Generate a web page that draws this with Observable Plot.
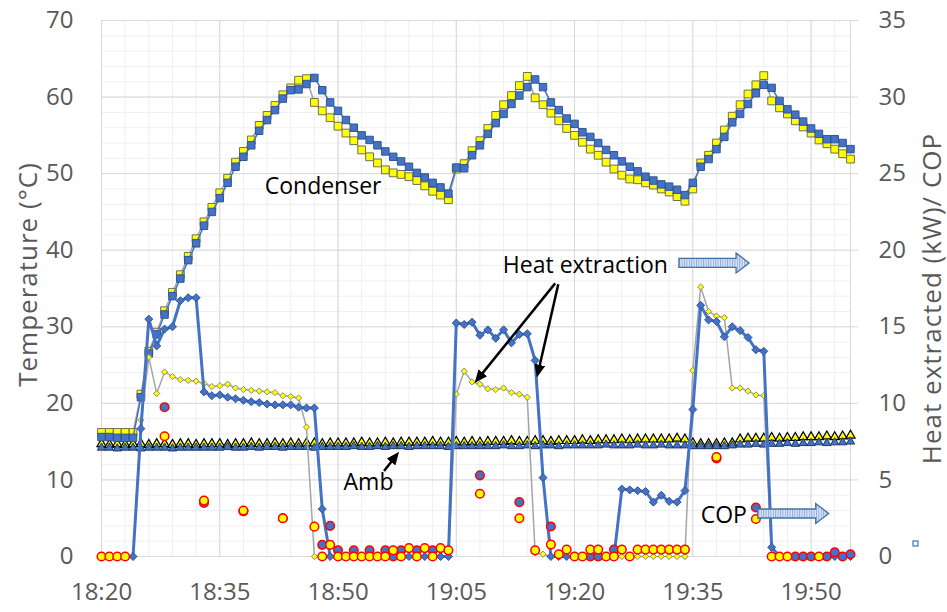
<!DOCTYPE html>
<html>
<head>
<meta charset="utf-8">
<script src="https://cdn.jsdelivr.net/npm/d3@7"></script>
<script src="https://cdn.jsdelivr.net/npm/@observablehq/plot@0.6"></script>
<style>
  html, body { margin: 0; padding: 0; background: #fff; }
  #chart svg { display: block; }
</style>
</head>
<body>
<div id="chart"></div>
<script>
// One reading per minute from 18:20 (minute 0) to 19:55 (minute 95).
const xTickMinutes = [0, 15, 30, 45, 60, 75, 90];
const xTickLabels = ["18:20", "18:35", "18:50", "19:05", "19:20", "19:35", "19:50"];
const tempTicks = [0, 10, 20, 30, 40, 50, 60, 70];

// Condenser temperatures (°C)
const condenserBlue = [
  15.6, 15.6, 15.5, 15.5, 15.5, 20.8, 26.5, 29.0, 31.6, 34.0,
  36.3, 38.7, 40.9, 43.2, 45.0, 46.8, 48.8, 50.9, 52.2, 53.7,
  55.6, 57.0, 58.3, 59.8, 60.9, 61.0, 61.7, 62.5, 60.9, 59.3,
  58.2, 57.0, 56.0, 55.0, 54.4, 53.7, 52.9, 52.2, 51.6, 50.9,
  50.1, 49.5, 48.8, 48.2, 47.4, 50.8, 50.7, 52.4, 53.7, 55.2,
  56.6, 57.8, 59.1, 60.2, 61.3, 62.3, 61.3, 59.3, 58.3, 57.2,
  56.5, 55.4, 54.8, 54.0, 53.1, 52.4, 51.6, 50.9, 50.3, 49.6,
  49.1, 48.6, 48.3, 47.9, 47.2, 48.8, 50.9, 51.9, 53.2, 54.8,
  56.7, 57.8, 59.1, 60.5, 61.6, 61.2, 59.5, 58.4, 57.7, 56.8,
  55.9, 55.2, 54.5, 54.5, 54.0, 53.2
];
const condenserYellow = [
  16.2, 16.2, 16.2, 16.2, 16.2, 21.2, 26.8, 29.3, 32.1, 34.5,
  36.8, 39.2, 41.5, 43.7, 45.6, 47.5, 49.4, 51.5, 52.9, 54.4,
  56.3, 57.6, 58.9, 60.3, 61.2, 62.2, 62.4, 59.3, 58.2, 57.3,
  56.2, 55.3, 54.3, 53.1, 52.2, 51.4, 50.5, 50.1, 49.9, 49.6,
  49.1, 48.4, 47.7, 47.2, 46.6, 50.6, 51.3, 53.0, 54.3, 55.9,
  57.6, 59.0, 60.2, 61.5, 62.7, 59.9, 59.0, 57.9, 56.9, 55.9,
  55.0, 54.1, 53.2, 52.4, 51.5, 50.6, 49.8, 49.3, 49.2, 48.8,
  48.5, 48.0, 47.6, 47.0, 46.4, 48.0, 51.4, 52.4, 54.0, 55.7,
  57.5, 59.0, 60.4, 61.6, 62.8, 59.5, 58.6, 57.8, 56.9, 56.1,
  55.3, 54.4, 53.9, 53.2, 52.6, 51.9
];

// Heat extracted (kW), read on the right-hand axis
const heatBlueKW = [
  0, 0, 0, 0, 0, 8.35, 15.5, 13.75, 14.85, 15.0,
  16.7, 16.9, 16.9, 10.75, 10.5, 10.55, 10.4, 10.3, 10.2, 10.1,
  10.05, 9.95, 9.9, 9.9, 9.9, 9.75, 9.7, 9.7, 3.1, 0,
  0, 0, 0, 0, 0, 0, 0, 0, 0, 0,
  0, 0, 0, 0, 0, 15.25, 15.15, 15.3, 14.45, 14.8,
  14.25, 14.8, 13.95, 14.5, 14.55, 12.8, 5.15, 0, 0, 0,
  0, 0, 0, 0, 0, 0, 4.4, 4.35, 4.3, 4.25,
  3.55, 4.0, 3.6, 3.55, 4.3, 9.6, 16.4, 15.45, 15.35, 14.35,
  15.0, 14.75, 14.3, 13.5, 13.4, 0.6, 0, 0, 0, 0,
  0, 0, 0, 0, 0, 0
];
const heatYellowKW = [
  0, 0, 0, 0, 0, 8.9, 13.0, 10.65, 12.05, 11.75,
  11.55, 11.5, 11.45, 11.3, 11.1, 11.15, 11.25, 11.0, 10.9, 10.85,
  10.8, 10.75, 10.7, 10.5, 10.45, 10.35, 8.45, 0, 0, 0,
  0, 0, 0, 0, 0, 0, 0, 0, 0, 0,
  0, 0, 0, 0, 0, 10.6, 12.1, 11.4, 11.25, 10.95,
  10.9, 11.0, 10.7, 10.6, 10.4, 0.25, 0.15, 0, 0, 0,
  0, 0, 0, 0, 0, 0, 0, 0, 0, 0,
  0, 0, 0, 0, 0, 12.15, 17.6, 16.0, 15.7, 15.6,
  11.0, 11.0, 10.8, 10.55, 10.5, 0, 0, 0, 0, 0,
  0, 0, 0, 0, 0, 0
];

// Ambient temperatures (°C)
const ambBlue = [
  14.2, 14.2, 14.1, 14.2, 14.2, 14.1, 14.2, 14.2, 14.2, 14.1,
  14.2, 14.2, 14.2, 14.2, 14.2, 14.2, 14.3, 14.2, 14.2, 14.3,
  14.2, 14.3, 14.3, 14.2, 14.3, 14.3, 14.3, 14.2, 14.3, 14.3,
  14.3, 14.3, 14.4, 14.3, 14.3, 14.4, 14.3, 14.4, 14.4, 14.3,
  14.4, 14.4, 14.4, 14.4, 14.3, 14.4, 14.4, 14.4, 14.4, 14.4,
  14.4, 14.5, 14.4, 14.4, 14.5, 14.4, 14.5, 14.5, 14.4, 14.5,
  14.5, 14.5, 14.5, 14.5, 14.6, 14.5, 14.5, 14.5, 14.6, 14.5,
  14.5, 14.6, 14.5, 14.5, 14.5, 14.4, 14.4, 14.4, 14.4, 14.4,
  14.5, 14.6, 14.6, 14.7, 14.6, 14.7, 14.7, 14.8, 14.7, 14.8,
  14.8, 14.9, 14.8, 14.9, 14.9, 15.0
];
const ambYellow = [
  14.7, 14.6, 14.7, 14.6, 14.7, 14.7, 14.6, 14.7, 14.7, 14.6,
  14.7, 14.7, 14.6, 14.7, 14.7, 14.7, 14.6, 14.7, 14.7, 14.8,
  14.7, 14.7, 14.8, 14.7, 14.8, 14.7, 14.8, 14.8, 14.7, 14.8,
  14.8, 14.8, 14.8, 14.9, 14.8, 14.8, 14.9, 14.8, 14.9, 14.9,
  14.9, 14.9, 15.0, 14.9, 14.9, 15.0, 14.9, 15.0, 14.9, 15.0,
  15.0, 15.0, 15.1, 15.0, 15.0, 15.1, 15.1, 15.0, 15.1, 15.1,
  15.1, 15.2, 15.1, 15.2, 15.2, 15.2, 15.3, 15.2, 15.3, 15.3,
  15.3, 15.3, 15.3, 15.4, 15.3, 14.8, 14.7, 14.7, 14.7, 14.8,
  14.8, 15.3, 15.4, 15.4, 15.4, 15.5, 15.4, 15.5, 15.5, 15.6,
  15.6, 15.6, 15.7, 15.6, 15.7, 15.8
];

// COP readings (right-hand axis); null = no reading
const copBlue = [
  null, null, null, null, null, null, null, null, 9.75, null,
  null, null, null, 3.5, null, null, null, null, 2.95, null,
  null, null, null, 2.5, null, null, null, null, 0.76, 2.0,
  0.4, null, 0.4, null, 0.4, null, 0.4, 0, 0.4, null,
  0.4, null, 0.4, null, null, null, null, null, 5.3, null,
  null, null, null, 3.55, null, null, null, 1.96, null, null,
  null, null, 0, 0, null, 0.45, null, null, null, null,
  null, null, null, null, null, null, null, null, 6.4, null,
  null, null, null, 3.2, null, null, null, null, 0, 0,
  0, null, 0, 0.27, 0, 0.15
];
const copYellow = [
  0, 0, 0, 0, null, null, null, null, 7.85, null,
  null, null, null, 3.65, null, null, null, null, 3.0, null,
  null, null, null, 2.5, null, null, null, 1.95, 0, 0.76,
  0, 0, 0, 0, 0, 0, 0, 0.4, 0, 0.55,
  0, 0.55, 0, 0.55, 0.4, null, null, null, 4.1, null,
  null, null, null, 2.5, null, 0.4, null, 0.78, 0.15, 0.45,
  0, 0, 0.45, 0.45, 0, 0, 0.45, 0, 0.45, 0.45,
  0.45, 0.45, 0.45, 0.45, 0.45, null, null, null, 6.5, null,
  null, null, null, 2.45, null, 0, 0, 0, null, null,
  null, 0, null, null, null, null
];

// Right axis (kW / COP) spans half the left axis (°C): 35 ↔ 70
const rightToLeft = 2;

// Axis titles
const leftTitle = "Temperature (°C)";
const rightTitle = "Heat extracted (kW)/ COP";

// Text notes and pointers, placed in data units (minute, °C)
const notes = [
  {text: "Condenser", minute: 20.7, value: 48.3},
  {text: "Heat extraction", minute: 50.9, value: 38.0},
  {text: "Amb", minute: 30.7, value: 9.7},
  {text: "COP", minute: 76.0, value: 5.35}
];
const pointers = [
  {m1: 57.6, v1: 35.6, m2: 47.7, v2: 23.0},
  {m1: 58.0, v1: 35.5, m2: 55.4, v2: 23.8},
  {m1: 35.9, v1: 11.1, m2: 37.5, v2: 13.2}
];
const blockArrows = [
  {m1: 73.3, m2: 82.2, v: 38.27},
  {m1: 83.3, m2: 92.3, v: 5.55}
];

const series = arr => arr.map((v, minute) => ({minute, v}));
const tickLabelAt = new Map(xTickMinutes.map((m, i) => [m, xTickLabels[i]]));

const minorY = d3.range(0, 71, 2);
const minorX = d3.range(0, 96, 3);

const chart = Plot.plot({
  width: 947,
  height: 612,
  marginLeft: 101,
  marginRight: 97,
  marginTop: 20,
  marginBottom: 56,
  style: {fontFamily: "'Open Sans', sans-serif", background: "#fff", overflow: "visible"},
  x: {type: "linear", domain: [0, 95]},
  y: {type: "linear", domain: [0, 70]},
  marks: [
    // grid
    Plot.ruleY(minorY, {stroke: "#efefef", strokeWidth: 1}),
    Plot.ruleX(minorX, {stroke: "#efefef", strokeWidth: 1}),
    Plot.ruleY(tempTicks, {stroke: "#d9d9d9", strokeWidth: 1}),
    Plot.ruleX(xTickMinutes, {stroke: "#d9d9d9", strokeWidth: 1}),
    Plot.ruleX([95], {stroke: "#d9d9d9", strokeWidth: 1}),

    // axes
    Plot.axisY(tempTicks, {anchor: "left", tickSize: 0, tickPadding: 28, fontSize: 24, fill: "#595959", label: null}),
    Plot.axisY(tempTicks, {anchor: "right", tickSize: 7, stroke: "#d9d9d9", tickPadding: 21, fontSize: 24, fill: "#595959",
      tickFormat: d => String(d / rightToLeft), label: null}),
    Plot.axisX(xTickMinutes, {anchor: "bottom", tickSize: 0, tickPadding: 26, fontSize: 24, fill: "#595959",
      tickFormat: d => tickLabelAt.get(d), label: null}),
    Plot.text([leftTitle], {frameAnchor: "left", textAnchor: "middle", dx: -73, dy: -14, rotate: -90, fontSize: 26, fill: "#595959"}),
    Plot.text([rightTitle], {frameAnchor: "right", textAnchor: "middle", dx: 82, dy: 10, rotate: -90, fontSize: 26, fill: "#595959"}),

    // ambient
    Plot.dot(series(ambYellow), {x: "minute", y: "v", symbol: "triangle", r: 3.4, fill: "#FFFF00", stroke: "#000", strokeWidth: 1.2}),
    Plot.dot(series(ambBlue), {x: "minute", y: "v", symbol: "triangle", r: 3.1, fill: "#4472C4", stroke: "#1F3864", strokeWidth: 1}),

    // condenser
    Plot.line(series(condenserYellow), {x: "minute", y: "v", stroke: "#A5A5A5", strokeWidth: 1.5}),
    Plot.dot(series(condenserYellow), {x: "minute", y: "v", symbol: "square", r: 4.4, fill: "#FFFF00", stroke: "#6F6F4F", strokeWidth: 1}),
    Plot.line(series(condenserBlue), {x: "minute", y: "v", stroke: "#4472C4", strokeWidth: 1.5}),
    Plot.dot(series(condenserBlue), {x: "minute", y: "v", symbol: "square", r: 4.2, fill: "#4472C4", stroke: "#2F5597", strokeWidth: 1}),

    // heat extraction
    Plot.line(series(heatYellowKW), {x: "minute", y: d => d.v * rightToLeft, stroke: "#A5A5A5", strokeWidth: 1.5}),
    Plot.dot(series(heatYellowKW), {x: "minute", y: d => d.v * rightToLeft, symbol: "diamond2", r: 2.8, fill: "#FFFF00", stroke: "#8C8C6C", strokeWidth: 1}),
    Plot.line(series(heatBlueKW), {x: "minute", y: d => d.v * rightToLeft, stroke: "#4472C4", strokeWidth: 3}),
    Plot.dot(series(heatBlueKW), {x: "minute", y: d => d.v * rightToLeft, symbol: "diamond2", r: 3.6, fill: "#4472C4", stroke: "#2F5597", strokeWidth: 1}),

    // COP
    Plot.dot(series(copBlue), {x: "minute", y: d => d.v == null ? null : d.v * rightToLeft, symbol: "circle", r: 4.3, fill: "#4472C4", stroke: "#FF0000", strokeWidth: 1.5}),
    Plot.dot(series(copYellow), {x: "minute", y: d => d.v == null ? null : d.v * rightToLeft, symbol: "circle", r: 4.3, fill: "#FFFF00", stroke: "#FF0000", strokeWidth: 1.5}),

    // notes
    Plot.text(notes, {x: "minute", y: "value", text: "text", textAnchor: "start", fontSize: 23, fill: "#000"})
  ]
});

document.getElementById("chart").appendChild(chart);

// Pointer arrows, block arrows and the small marker, positioned through the plot's scales
const svgEl = chart.tagName.toLowerCase() === "svg" ? chart : chart.querySelector("svg");
const sxs = chart.scale("x"), sys = chart.scale("y");
const px = sxs.apply ? v => sxs.apply(v) : d3.scaleLinear(sxs.domain, sxs.range);
const py = sys.apply ? v => sys.apply(v) : d3.scaleLinear(sys.domain, sys.range);
const svg = d3.select(svgEl);

// slightly wider tracking on the axis titles
svg.selectAll("text")
  .filter(function() { return this.textContent === leftTitle || this.textContent === rightTitle; })
  .attr("letter-spacing", "1px");

const defs = svg.append("defs");
defs.append("marker")
  .attr("id", "tip").attr("viewBox", "0 0 10 10").attr("refX", 7).attr("refY", 5)
  .attr("markerUnits", "userSpaceOnUse").attr("markerWidth", 13).attr("markerHeight", 11)
  .attr("preserveAspectRatio", "none").attr("orient", "auto")
  .append("path").attr("d", "M0,0L10,5L0,10z").attr("fill", "#000");
const pat = defs.append("pattern").attr("id", "stripes")
  .attr("width", 2.4).attr("height", 4).attr("patternUnits", "userSpaceOnUse");
pat.append("rect").attr("width", 2.4).attr("height", 4).attr("fill", "#dde7f6");
pat.append("rect").attr("width", 1).attr("height", 4).attr("fill", "#8eaadb");

const overlay = svg.append("g");
overlay.selectAll("line.pointer").data(pointers).join("line")
  .attr("class", "pointer")
  .attr("x1", d => px(d.m1)).attr("y1", d => py(d.v1))
  .attr("x2", d => px(d.m2)).attr("y2", d => py(d.v2))
  .attr("stroke", "#000").attr("stroke-width", 2.5)
  .attr("marker-end", "url(#tip)");

overlay.selectAll("path.block").data(blockArrows).join("path")
  .attr("class", "block")
  .attr("d", d => {
    const x0 = px(d.m1), x1 = px(d.m2), cy = py(d.v);
    const bh = 4.5, hh = 10, hl = 13;
    return `M${x0},${cy - bh}L${x1 - hl},${cy - bh}L${x1 - hl},${cy - hh}L${x1},${cy}` +
           `L${x1 - hl},${cy + hh}L${x1 - hl},${cy + bh}L${x0},${cy + bh}Z`;
  })
  .attr("fill", "url(#stripes)").attr("stroke", "#41719C").attr("stroke-width", 1.3);

overlay.append("rect")
  .attr("x", px(95) + 63).attr("y", py(0) - 15).attr("width", 5).attr("height", 5)
  .attr("fill", "#fff").attr("stroke", "#4472C4").attr("stroke-width", 1.2);
</script>
</body>
</html>
